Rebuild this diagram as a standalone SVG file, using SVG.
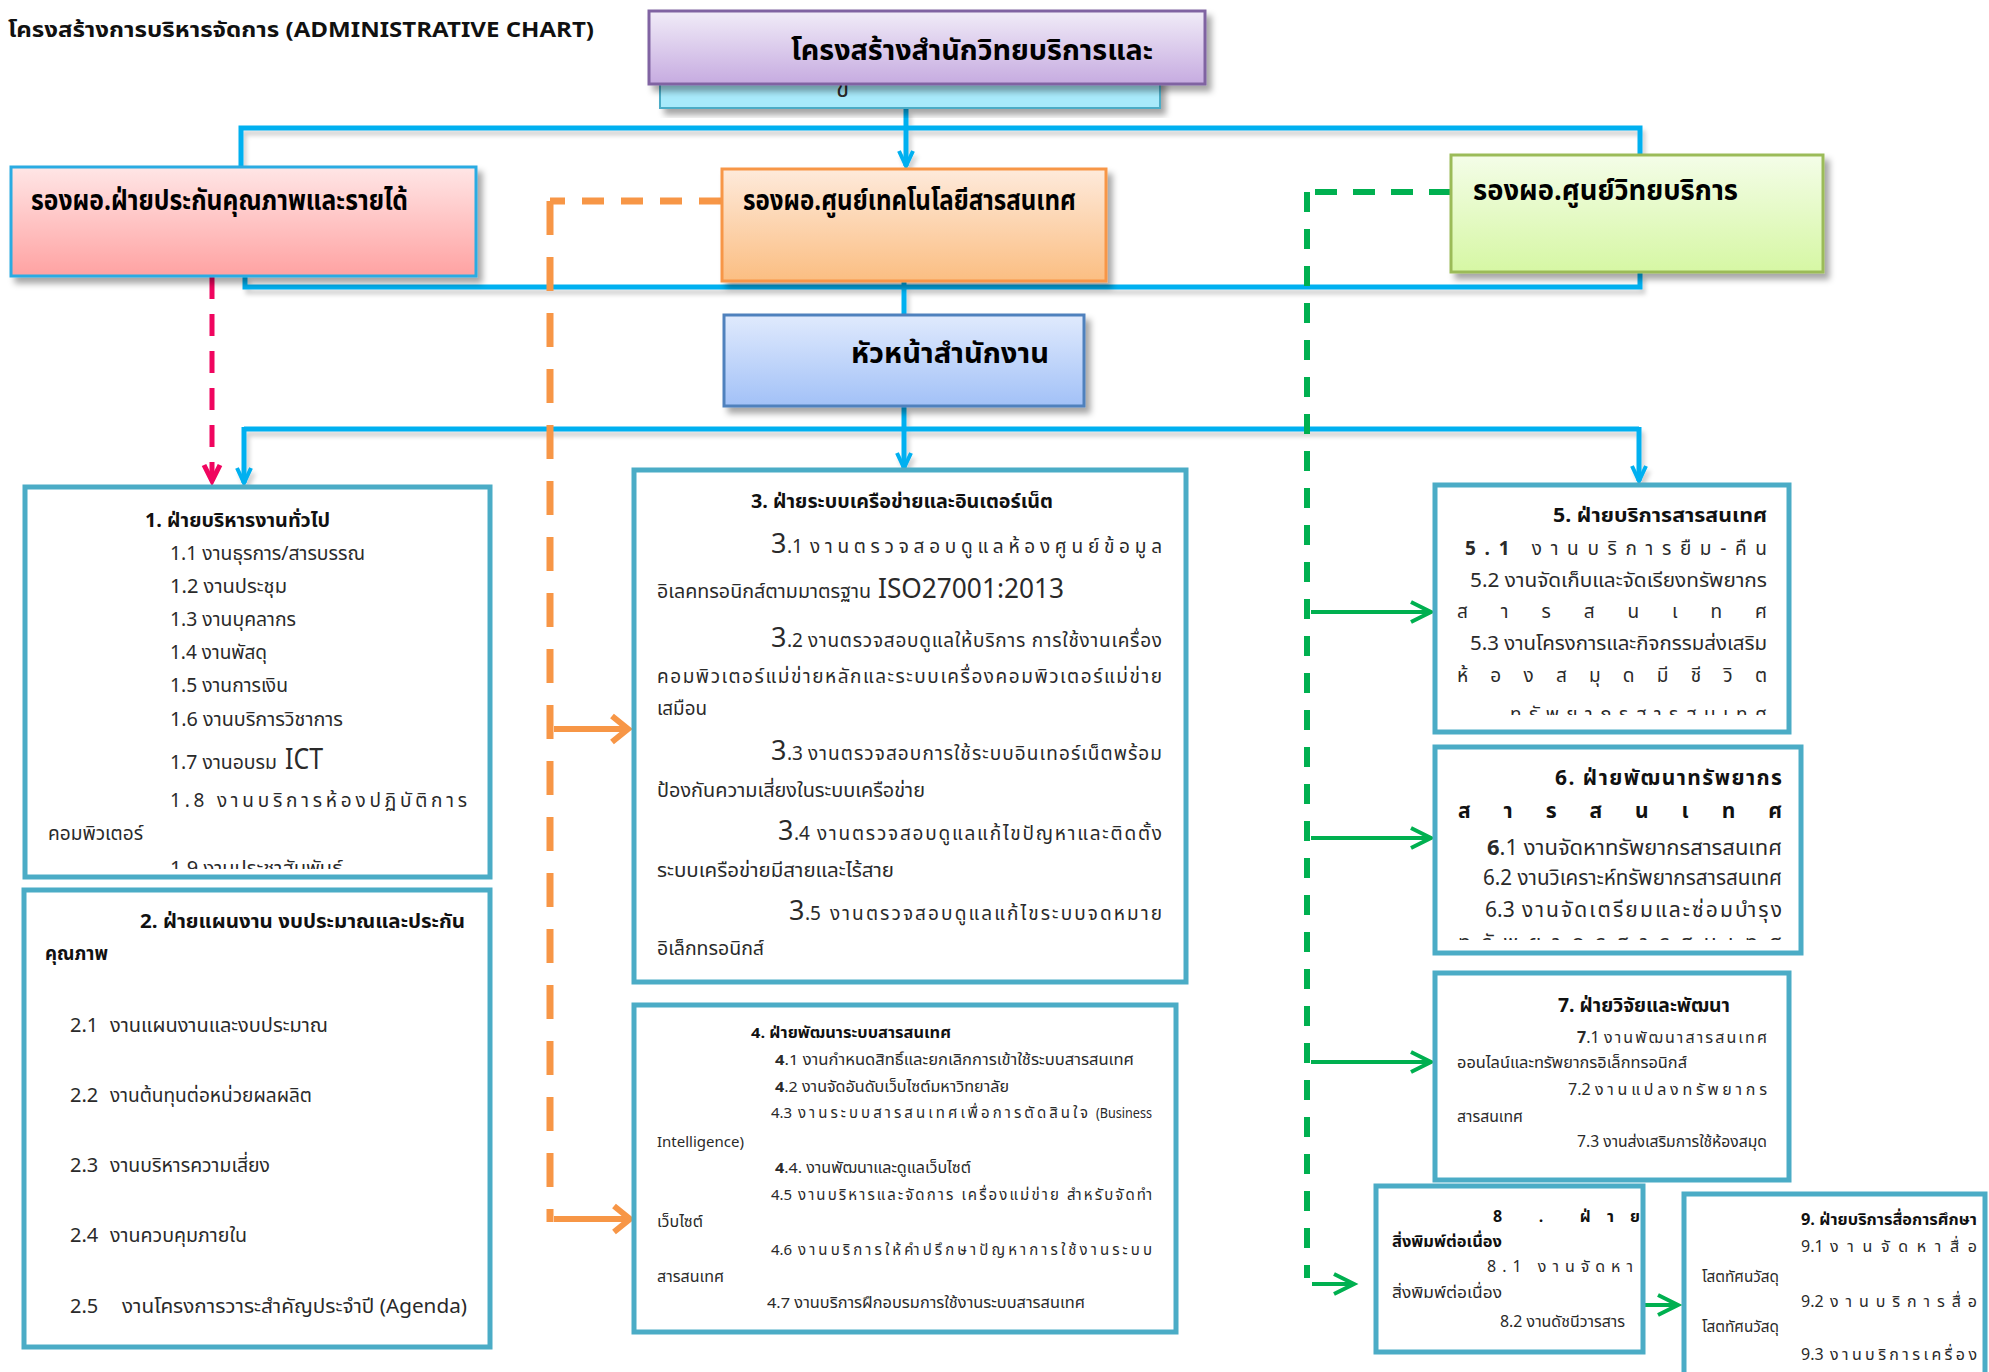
<svg xmlns="http://www.w3.org/2000/svg" width="1989" height="1372" viewBox="0 0 1989 1372">
<style>
text{font-family:'Noto Sans Thai','Noto Sans','DejaVu Sans',sans-serif;fill:#2a2a2a;}
.b{font-weight:bold;fill:#111;}
.hd{font-weight:bold;fill:#000;font-size:28px;}
.f19{font-size:19px;}
.f20{font-size:20px;}
.f21{font-size:21px;}
.f16{font-size:16px;}
.f15{font-size:15px;}
.big{font-size:27px;}
.box{fill:#fff;stroke:#4BACC6;stroke-width:5;}
.blue{fill:none;stroke:#00B0F0;stroke-width:5;}
.gsol{fill:none;stroke:#00B050;stroke-width:4;}
.osol{fill:none;stroke:#F79646;stroke-width:6;}
</style>
<defs>
<linearGradient id="gPur" x1="0" y1="0" x2="0" y2="1"><stop offset="0" stop-color="#F1ECF8"/><stop offset="1" stop-color="#C6ABE0"/></linearGradient>
<linearGradient id="gRed" x1="0" y1="0" x2="0" y2="1"><stop offset="0" stop-color="#FFE6E6"/><stop offset="1" stop-color="#FFA2A2"/></linearGradient>
<linearGradient id="gOra" x1="0" y1="0" x2="0" y2="1"><stop offset="0" stop-color="#FEEADB"/><stop offset="1" stop-color="#FBBE82"/></linearGradient>
<linearGradient id="gGre" x1="0" y1="0" x2="0" y2="1"><stop offset="0" stop-color="#F4FDE8"/><stop offset="1" stop-color="#D6F7A4"/></linearGradient>
<linearGradient id="gBlu" x1="0" y1="0" x2="0" y2="1"><stop offset="0" stop-color="#E0EAFD"/><stop offset="1" stop-color="#A2C1F7"/></linearGradient>
<filter id="sh" x="-10%" y="-10%" width="130%" height="140%"><feDropShadow dx="5" dy="6" stdDeviation="3" flood-color="#000" flood-opacity="0.35"/></filter>
<filter id="lsh" x="-5%" y="-5%" width="110%" height="120%"><feDropShadow dx="3" dy="5" stdDeviation="2" flood-color="#000" flood-opacity="0.18"/></filter>
<marker id="aBlue" markerUnits="userSpaceOnUse" orient="auto" overflow="visible" markerWidth="1" markerHeight="1"><path d="M-15,-7 L0,0 L-15,7" fill="none" stroke="#00B0F0" stroke-width="4"/></marker>
<marker id="aPink" markerUnits="userSpaceOnUse" orient="auto" overflow="visible" markerWidth="1" markerHeight="1"><path d="M-16,-8 L0,0 L-16,8" fill="none" stroke="#F0055F" stroke-width="5"/></marker>
<marker id="aOra" markerUnits="userSpaceOnUse" orient="auto" overflow="visible" markerWidth="1" markerHeight="1"><path d="M-16,-13 L0,0 L-16,13" fill="none" stroke="#F79646" stroke-width="6"/></marker>
<marker id="aGre" markerUnits="userSpaceOnUse" orient="auto" overflow="visible" markerWidth="1" markerHeight="1"><path d="M-20,-10 L0,0 L-20,10" fill="none" stroke="#00B050" stroke-width="4"/></marker>
<clipPath id="c1"><rect x="25" y="487" width="465" height="382"/></clipPath>
<clipPath id="c5"><rect x="1437" y="487" width="350" height="228"/></clipPath>
<clipPath id="c6"><rect x="1437" y="749" width="362" height="191"/></clipPath>
<clipPath id="c7"><rect x="1437" y="975" width="350" height="180"/></clipPath>
<clipPath id="c9"><rect x="1684" y="1194" width="305" height="178"/></clipPath>
</defs>
<rect width="1989" height="1372" fill="#fff"/>

<text id="title" x="8" y="37" font-size="22" class="b" textLength="586" lengthAdjust="spacingAndGlyphs">โครงสร้างการบริหารจัดการ (ADMINISTRATIVE CHART)</text>

<g id="connectors">
 <g filter="url(#lsh)">
  <path class="blue" d="M241,166 L241,128 L1640,128 L1640,154"/>
  <path class="blue" d="M245,276 L245,287 L1640,287 L1640,273"/>
  <path class="blue" d="M906,109 L906,166" marker-end="url(#aBlue)"/>
  <path class="blue" d="M904,282 L904,315"/>
  <path class="blue" d="M904,407 L904,468" marker-end="url(#aBlue)"/>
  <path class="blue" d="M244,429 L1639,429"/>
  <path class="blue" d="M244,427 L244,483" marker-end="url(#aBlue)"/>
  <path class="blue" d="M1639,427 L1639,481" marker-end="url(#aBlue)"/>
 </g>
 <path d="M212,277 L212,481" fill="none" stroke="#F0055F" stroke-width="5" stroke-dasharray="22 15" marker-end="url(#aPink)"/>
 <path d="M721,201 L550,201" fill="none" stroke="#F79646" stroke-width="7" stroke-dasharray="22 17"/>
 <path d="M550,201 L550,1222" fill="none" stroke="#F79646" stroke-width="7" stroke-dasharray="34 22"/>
 <path class="osol" d="M554,729 L628,729" marker-end="url(#aOra)"/>
 <path class="osol" d="M554,1219 L630,1219" marker-end="url(#aOra)"/>
 <path d="M1451,192 L1307,192" fill="none" stroke="#00B050" stroke-width="6" stroke-dasharray="22 16"/>
 <path d="M1307,192 L1307,1278" fill="none" stroke="#00B050" stroke-width="6" stroke-dasharray="20 17"/>
 <path class="gsol" d="M1311,612 L1431,612" marker-end="url(#aGre)"/>
 <path class="gsol" d="M1311,838 L1431,838" marker-end="url(#aGre)"/>
 <path class="gsol" d="M1311,1062 L1431,1062" marker-end="url(#aGre)"/>
 <path class="gsol" d="M1312,1284 L1354,1284" marker-end="url(#aGre)"/>
 <path class="gsol" d="M1645,1305 L1678,1305" marker-end="url(#aGre)"/>
</g>

<g id="node-top-sub">
 <rect x="660" y="76" width="500" height="32" fill="#A8EAFB" stroke="#4BACC6" stroke-width="2" filter="url(#sh)"/>
 <text x="836" y="97" font-size="24" fill="#000">ข</text>
</g>
<g id="node-top">
 <rect x="649" y="11" width="556" height="73" fill="url(#gPur)" stroke="#8064A2" stroke-width="3" filter="url(#sh)"/>
 <text x="791" y="60" class="hd" font-size="30" textLength="362" lengthAdjust="spacingAndGlyphs">โครงสร้างสำนักวิทยบริการและ</text>
</g>
<g id="node-red">
 <rect x="11" y="167" width="465" height="109" fill="url(#gRed)" stroke="#29ABE2" stroke-width="3" filter="url(#sh)"/>
 <text x="31" y="210" class="hd" textLength="377" lengthAdjust="spacingAndGlyphs">รองผอ.ฝ่ายประกันคุณภาพและรายได้</text>
</g>
<g id="node-orange">
 <rect x="722" y="169" width="384" height="112" fill="url(#gOra)" stroke="#F79646" stroke-width="3" filter="url(#sh)"/>
 <text x="743" y="210" class="hd" textLength="333" lengthAdjust="spacingAndGlyphs">รองผอ.ศูนย์เทคโนโลยีสารสนเทศ</text>
</g>
<g id="node-green">
 <rect x="1451" y="155" width="372" height="117" fill="url(#gGre)" stroke="#9BBB59" stroke-width="3" filter="url(#sh)"/>
 <text x="1473" y="200" class="hd" textLength="265" lengthAdjust="spacingAndGlyphs">รองผอ.ศูนย์วิทยบริการ</text>
</g>
<g id="node-head">
 <rect x="724" y="315" width="360" height="91" fill="url(#gBlu)" stroke="#4F81BD" stroke-width="3" filter="url(#sh)"/>
 <text x="851" y="363" class="hd" textLength="198" lengthAdjust="spacingAndGlyphs">หัวหน้าสำนักงาน</text>
</g>

<g id="node-1">
 <rect class="box" x="25" y="487" width="465" height="390"/>
 <g clip-path="url(#c1)" class="f19">
  <text x="145" y="527" class="b" textLength="185" lengthAdjust="spacingAndGlyphs">1. ฝ่ายบริหารงานทั่วไป</text>
  <text x="170" y="560" textLength="195" lengthAdjust="spacingAndGlyphs">1.1 งานธุรการ/สารบรรณ</text>
  <text x="170" y="593" textLength="117" lengthAdjust="spacingAndGlyphs">1.2 งานประชุม</text>
  <text x="170" y="626" textLength="126" lengthAdjust="spacingAndGlyphs">1.3 งานบุคลากร</text>
  <text x="170" y="659" textLength="97" lengthAdjust="spacingAndGlyphs">1.4 งานพัสดุ</text>
  <text x="170" y="692" textLength="118" lengthAdjust="spacingAndGlyphs">1.5 งานการเงิน</text>
  <text x="170" y="726" textLength="173" lengthAdjust="spacingAndGlyphs">1.6 งานบริการวิชาการ</text>
  <text x="170" y="769" textLength="107" lengthAdjust="spacingAndGlyphs">1.7 งานอบรม</text>
  <text x="285" y="769" font-size="29" textLength="38" lengthAdjust="spacingAndGlyphs">ICT</text>
  <text x="170" y="807" textLength="297">1.8 งานบริการห้องปฏิบัติการ</text>
  <text x="48" y="840" textLength="95" lengthAdjust="spacingAndGlyphs">คอมพิวเตอร์</text>
  <text x="170" y="875" textLength="173" lengthAdjust="spacingAndGlyphs">1.9 งานประชาสัมพันธ์</text>
 </g>
</g>

<g id="node-2" class="f20">
 <rect class="box" x="24" y="890" width="466" height="457"/>
 <text x="140" y="928" class="b" textLength="325" lengthAdjust="spacingAndGlyphs">2. ฝ่ายแผนงาน งบประมาณและประกัน</text>
 <text x="45" y="960" class="b" textLength="63" lengthAdjust="spacingAndGlyphs">คุณภาพ</text>
 <text x="70" y="1032">2.1</text><text x="110" y="1032" textLength="218" lengthAdjust="spacingAndGlyphs">งานแผนงานและงบประมาณ</text>
 <text x="70" y="1102">2.2</text><text x="110" y="1102" textLength="202" lengthAdjust="spacingAndGlyphs">งานต้นทุนต่อหน่วยผลผลิต</text>
 <text x="70" y="1172">2.3</text><text x="110" y="1172" textLength="160" lengthAdjust="spacingAndGlyphs">งานบริหารความเสี่ยง</text>
 <text x="70" y="1242">2.4</text><text x="110" y="1242" textLength="137" lengthAdjust="spacingAndGlyphs">งานควบคุมภายใน</text>
 <text x="70" y="1313">2.5</text><text x="122" y="1313" textLength="345" lengthAdjust="spacingAndGlyphs">งานโครงการวาระสำคัญประจำปี (Agenda)</text>
</g>

<g id="node-3" class="f19">
 <rect class="box" x="634" y="470" width="552" height="512"/>
 <text x="751" y="508" class="b" textLength="302" lengthAdjust="spacingAndGlyphs">3. ฝ่ายระบบเครือข่ายและอินเตอร์เน็ต</text>
 <text x="771" y="553" class="big">3</text><text x="787" y="553">.1</text><text x="810" y="553" textLength="352">งานตรวจสอบดูแลห้องศูนย์ข้อมูล</text>
 <text x="657" y="598" textLength="214" lengthAdjust="spacingAndGlyphs">อิเลคทรอนิกส์ตามมาตรฐาน</text><text x="878" y="598" class="big" textLength="186" lengthAdjust="spacingAndGlyphs">ISO27001:2013</text>
 <text x="771" y="647" class="big">3</text><text x="787" y="647">.2</text><text x="808" y="647" textLength="354">งานตรวจสอบดูแลให้บริการ การใช้งานเครื่อง</text>
 <text x="657" y="683" textLength="505">คอมพิวเตอร์แม่ข่ายหลักและระบบเครื่องคอมพิวเตอร์แม่ข่าย</text>
 <text x="657" y="715" textLength="50" lengthAdjust="spacingAndGlyphs">เสมือน</text>
 <text x="771" y="760" class="big">3</text><text x="787" y="760">.3</text><text x="808" y="760" textLength="354">งานตรวจสอบการใช้ระบบอินเทอร์เน็ตพร้อม</text>
 <text x="657" y="797" textLength="268" lengthAdjust="spacingAndGlyphs">ป้องกันความเสี่ยงในระบบเครือข่าย</text>
 <text x="778" y="840" class="big">3</text><text x="794" y="840">.4</text><text x="817" y="840" textLength="345">งานตรวจสอบดูแลแก้ไขปัญหาและติดตั้ง</text>
 <text x="657" y="877" textLength="237" lengthAdjust="spacingAndGlyphs">ระบบเครือข่ายมีสายและไร้สาย</text>
 <text x="789" y="920" class="big">3</text><text x="805" y="920">.5</text><text x="830" y="920" textLength="332">งานตรวจสอบดูแลแก้ไขระบบจดหมาย</text>
 <text x="657" y="955" textLength="107" lengthAdjust="spacingAndGlyphs">อิเล็กทรอนิกส์</text>
</g>

<g id="node-4" class="f15">
 <rect class="box" x="634" y="1005" width="542" height="327"/>
 <text x="751" y="1038" class="b" textLength="200" lengthAdjust="spacingAndGlyphs">4. ฝ่ายพัฒนาระบบสารสนเทศ</text>
 <text x="775" y="1065" textLength="359" lengthAdjust="spacingAndGlyphs"><tspan font-weight="bold">4</tspan>.1 งานกำหนดสิทธิ์และยกเลิกการเข้าใช้ระบบสารสนเทศ</text>
 <text x="775" y="1092" textLength="234" lengthAdjust="spacingAndGlyphs"><tspan font-weight="bold">4</tspan>.2 งานจัดอันดับเว็บไซต์มหาวิทยาลัย</text>
 <text x="771" y="1118">4.3</text><text x="798" y="1118" textLength="290">งานระบบสารสนเทศเพื่อการตัดสินใจ</text><text x="1096" y="1118" textLength="56" lengthAdjust="spacingAndGlyphs">(Business</text>
 <text x="657" y="1147" textLength="87" lengthAdjust="spacingAndGlyphs">Intelligence)</text>
 <text x="775" y="1173" textLength="196" lengthAdjust="spacingAndGlyphs"><tspan font-weight="bold">4</tspan>.4. งานพัฒนาและดูแลเว็บไซต์</text>
 <text x="771" y="1200">4.5</text><text x="798" y="1200" textLength="354">งานบริหารและจัดการ เครื่องแม่ข่าย สำหรับจัดทำ</text>
 <text x="657" y="1227" textLength="46" lengthAdjust="spacingAndGlyphs">เว็บไซต์</text>
 <text x="771" y="1255">4.6</text><text x="798" y="1255" textLength="354">งานบริการให้คำปรึกษาปัญหาการใช้งานระบบ</text>
 <text x="657" y="1282" textLength="67" lengthAdjust="spacingAndGlyphs">สารสนเทศ</text>
 <text x="767" y="1308" textLength="318" lengthAdjust="spacingAndGlyphs">4.7 งานบริการฝึกอบรมการใช้งานระบบสารสนเทศ</text>
</g>

<g id="node-5" class="f19">
 <rect class="box" x="1435" y="485" width="354" height="247"/>
 <g clip-path="url(#c5)">
  <text x="1553" y="522" class="b" textLength="214" lengthAdjust="spacingAndGlyphs">5. ฝ่ายบริการสารสนเทศ</text>
  <text x="1465" y="555" textLength="302"><tspan font-weight="bold">5.1</tspan> งานบริการยืม-คืน</text>
  <text x="1470" y="587" textLength="297" lengthAdjust="spacingAndGlyphs">5.2 งานจัดเก็บและจัดเรียงทรัพยากร</text>
  <text x="1457" y="618" textLength="310">สารสนเทศ</text>
  <text x="1470" y="650" textLength="297" lengthAdjust="spacingAndGlyphs">5.3 งานโครงการและกิจกรรมส่งเสริม</text>
  <text x="1457" y="682" textLength="310">ห้องสมุดมีชีวิต</text>
  <text x="1510" y="721" textLength="257">ทรัพยากรสารสนเทศ</text>
 </g>
</g>

<g id="node-6" class="f21">
 <rect class="box" x="1435" y="747" width="366" height="206"/>
 <g clip-path="url(#c6)">
  <text x="1555" y="785" class="b" textLength="227">6. ฝ่ายพัฒนาทรัพยากร</text>
  <text x="1458" y="818" class="b" textLength="324">สารสนเทศ</text>
  <text x="1487" y="855" textLength="295" lengthAdjust="spacingAndGlyphs"><tspan font-weight="bold">6</tspan>.1 งานจัดหาทรัพยากรสารสนเทศ</text>
  <text x="1483" y="885" textLength="299" lengthAdjust="spacingAndGlyphs">6.2 งานวิเคราะห์ทรัพยากรสารสนเทศ</text>
  <text x="1485" y="917">6.3</text><text x="1522" y="917" textLength="260">งานจัดเตรียมและซ่อมบำรุง</text>
  <text x="1458" y="950" textLength="324">ทรัพยากรสารสนเทศ</text>
 </g>
</g>

<g id="node-7" class="f16">
 <rect class="box" x="1435" y="973" width="354" height="207"/>
 <g clip-path="url(#c7)">
  <text x="1558" y="1012" class="b" font-size="20" textLength="172" lengthAdjust="spacingAndGlyphs">7. ฝ่ายวิจัยและพัฒนา</text>
  <text x="1577" y="1043"><tspan font-weight="bold">7</tspan>.1</text><text x="1604" y="1043" textLength="163">งานพัฒนาสารสนเทศ</text>
  <text x="1457" y="1068" textLength="230" lengthAdjust="spacingAndGlyphs">ออนไลน์และทรัพยากรอิเล็กทรอนิกส์</text>
  <text x="1568" y="1095">7.2</text><text x="1595" y="1095" textLength="172">งานแปลงทรัพยากร</text>
  <text x="1457" y="1122" textLength="66" lengthAdjust="spacingAndGlyphs">สารสนเทศ</text>
  <text x="1577" y="1147" textLength="190" lengthAdjust="spacingAndGlyphs">7.3 งานส่งเสริมการใช้ห้องสมุด</text>
 </g>
</g>

<g id="node-8" class="f16">
 <rect class="box" x="1376" y="1186" width="267" height="166"/>
 <text x="1493" y="1222" class="b" textLength="147">8 . ฝ่าย</text>
 <text x="1392" y="1247" class="b" textLength="110" lengthAdjust="spacingAndGlyphs">สิ่งพิมพ์ต่อเนื่อง</text>
 <text x="1487" y="1272" textLength="146">8.1 งานจัดหา</text>
 <text x="1392" y="1298" textLength="110" lengthAdjust="spacingAndGlyphs">สิ่งพิมพ์ต่อเนื่อง</text>
 <text x="1500" y="1327" textLength="125" lengthAdjust="spacingAndGlyphs">8.2 งานดัชนีวารสาร</text>
</g>

<g id="node-9" class="f16">
 <rect class="box" x="1684" y="1194" width="301" height="190"/>
 <g clip-path="url(#c9)">
  <text x="1801" y="1225" class="b" textLength="176" lengthAdjust="spacingAndGlyphs">9. ฝ่ายบริการสื่อการศึกษา</text>
  <text x="1801" y="1252">9.1</text><text x="1830" y="1252" textLength="147">งานจัดหาสื่อ</text>
  <text x="1702" y="1282" textLength="77" lengthAdjust="spacingAndGlyphs">โสตทัศนวัสดุ</text>
  <text x="1801" y="1307">9.2</text><text x="1830" y="1307" textLength="147">งานบริการสื่อ</text>
  <text x="1702" y="1332" textLength="77" lengthAdjust="spacingAndGlyphs">โสตทัศนวัสดุ</text>
  <text x="1801" y="1360">9.3</text><text x="1830" y="1360" textLength="147">งานบริการเครื่อง</text>
 </g>
</g>
</svg>
